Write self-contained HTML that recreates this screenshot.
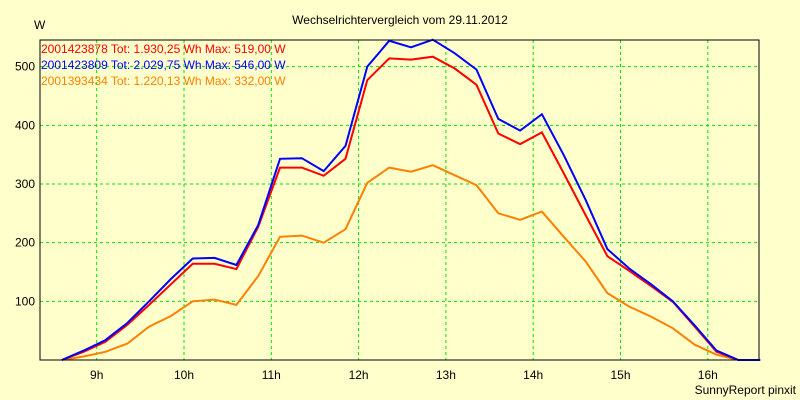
<!DOCTYPE html>
<html><head><meta charset="utf-8"><style>
body{margin:0;background:#ffffcc;}
svg{display:block;font-family:"Liberation Sans",sans-serif;font-size:12px;}
</style></head><body>
<svg id="chart" width="800" height="400" viewBox="0 0 800 400">
<rect x="0" y="0" width="800" height="400" fill="#ffffcc"/>
<text x="400" y="24" text-anchor="middle">Wechselrichtervergleich vom 29.11.2012</text>
<text x="34" y="29">W</text>
<text x="796" y="394" text-anchor="end">SunnyReport pinxit</text>
<g id="grid"></g>
<g id="series"></g>
<rect x="40" y="40" width="719" height="320" fill="none" stroke="#000" stroke-width="1"/>
<g id="legend"></g>
</svg>
<script>
const times = [8.6,8.85,9.1,9.35,9.6,9.85,10.1,10.35,10.6,10.85,11.1,11.35,11.6,11.85,12.1,12.35,12.6,12.85,13.1,13.35,13.6,13.85,14.1,14.35,14.6,14.85,15.1,15.35,15.6,15.85,16.1,16.35,16.6];
const redValues = [0,14,31,60,94,129,164,164,155,227,328,328,314,343,477,514,512,517,497,469,386,368,388,318,247,177,152,126,99,57,14,0,0];
const blueValues = [0,16,34,63,100,138,173,174,162,230,343,344,322,365,500,544,533,546,523,495,411,391,419,349,273,189,156,129,100,59,16,0,0];
const orangeValues = [0,6,14,28,57,75,100,103,94,143,210,212,200,223,302,328,321,332,315,298,250,239,253,210,168,114,91,74,54,26,9,0,0];
const yTicks = [100,200,300,400,500];
const xTicks = [9,10,11,12,13,14,15,16];
const xTickLabels = ["9h","10h","11h","12h","13h","14h","15h","16h"];
const legendLabels = ["2001423878 Tot: 1.930,25 Wh Max: 519,00 W","2001423809 Tot: 2.029,75 Wh Max: 546,00 W","2001393434 Tot: 1.220,13 Wh Max: 332,00 W"];

const NS="http://www.w3.org/2000/svg";
const xs = t => 96.7 + (t-9)*87.3;
const ys = v => 360 - v*0.5867;
const grid=document.getElementById('grid');
yTicks.forEach(v=>{
  const l=document.createElementNS(NS,'line');
  
  
  l.setAttribute('x1',40);l.setAttribute('x2',759);l.setAttribute('y1',ys(v));l.setAttribute('y2',ys(v));
  l.setAttribute('stroke','#00e000');l.setAttribute('stroke-dasharray','3,3');
  grid.appendChild(l);
  const t=document.createElementNS(NS,'text');
  
  
  t.setAttribute('x',35);t.setAttribute('y',ys(v)+4);t.setAttribute('text-anchor','end');
  t.textContent=v;grid.appendChild(t);
});
xTicks.forEach((h,i)=>{
  const l=document.createElementNS(NS,'line');
  
  
  l.setAttribute('x1',xs(h));l.setAttribute('x2',xs(h));l.setAttribute('y1',40);l.setAttribute('y2',360);
  l.setAttribute('stroke','#00e000');l.setAttribute('stroke-dasharray','3,3');
  grid.appendChild(l);
  const t=document.createElementNS(NS,'text');
  
  
  t.setAttribute('x',xs(h));t.setAttribute('y',379);t.setAttribute('text-anchor','middle');
  t.textContent=xTickLabels[i];grid.appendChild(t);
});
const series=document.getElementById('series');
[[orangeValues,'#ff8000','series-orange-2001393434'],[redValues,'#ff0000','series-red-2001423878'],[blueValues,'#0000ff','series-blue-2001423809']].forEach(([vals,c,n])=>{
  const p=document.createElementNS(NS,'polyline');
  
  
  p.setAttribute('points',vals.map((v,i)=>xs(times[i]).toFixed(1)+','+ys(v).toFixed(1)).join(' '));
  p.setAttribute('fill','none');p.setAttribute('stroke',c);p.setAttribute('stroke-width','2');
  series.appendChild(p);
});
const legend=document.getElementById('legend');
['#ff0000','#0000ff','#ff8000'].forEach((c,i)=>{
  const t=document.createElementNS(NS,'text');
  
  
  t.setAttribute('x',41);t.setAttribute('y',53+i*16);t.setAttribute('fill',c);
  t.textContent=legendLabels[i];legend.appendChild(t);
});
</script>
</body></html>
